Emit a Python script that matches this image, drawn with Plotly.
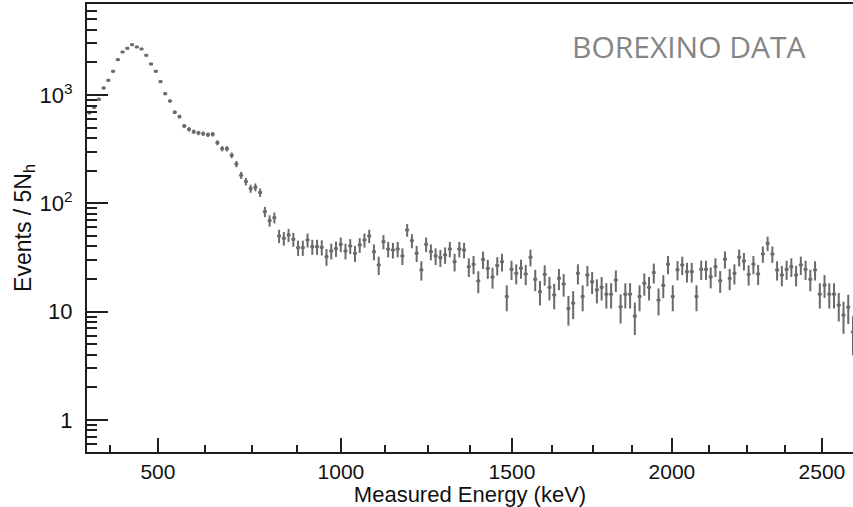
import numpy as np
import plotly.graph_objects as go

# Histogram: bins of 5 N_h starting at N_h = 130
bin_start = 130.0
bin_width = 5.0
counts = [
    688, 771, 914, 1163, 1370, 1659, 2123, 2500, 2705, 2920,
    2781, 2665, 2331, 1937, 1659, 1330, 1030, 882, 694, 632,
    518, 483, 459, 447, 440, 431, 435, 363, 320, 320,
    278, 231, 182, 159, 137, 141, 126, 83.8, 69.2, 73.8,
    50.0, 47.6, 51.1, 46.6, 39.0, 39.0, 45.9, 39.8, 39.8, 39.3,
    32.2, 36.4, 38.2, 41.9, 36.4, 40.4, 34.6, 41.3, 45.9, 50.0,
    35.8, 27.0, 44.3, 37.9, 37.1, 37.9, 32.7, 56.8, 45.2, 34.6,
    24.3, 41.9, 35.8, 32.7, 31.5, 33.4, 37.9, 28.9, 37.9, 37.1,
    26.0, 27.4, 19.2, 30.3, 25.1, 20.9, 26.7, 28.9, 13.8, 24.6,
    22.6, 25.2, 22.3, 31.8, 19.9, 15.3, 22.1, 16.8, 14.3, 20.3,
    18.0, 10.7, 12.0, 22.6, 13.8, 21.8, 18.9, 15.9, 16.8, 14.5,
    14.5, 19.6, 11.1, 14.5, 14.5, 9.1, 13.8, 18.3, 16.8, 23.0,
    12.8, 17.5, 27.4, 13.8, 24.4, 27.0, 23.4, 23.4, 13.8, 24.6,
    24.6, 21.0, 26.0, 19.3, 30.5, 20.3, 22.6, 31.8, 29.4, 22.1,
    27.4, 22.3, 34.1, 42.8, 34.1, 24.3, 21.8, 24.6, 26.0, 21.8,
    27.0, 24.6, 19.9, 24.3, 14.5, 17.6, 14.5, 14.5, 11.5, 9.3,
    11.0, 6.5,
]

# Energy calibration of the N_h axis (tick labels)
major_kev = [500, 1000, 1500, 2000, 2500]
major_nh = [204.8, 397.7, 578.0, 746.6, 904.7]
minor_kev = [375, 625, 750, 875, 1125, 1250, 1375, 1625, 1750, 1875, 2125, 2250, 2375]
minor_nh = [154.2, 254.4, 303.9, 351.4, 444.1, 489.4, 533.7, 620.1, 663.3, 704.4, 785.6, 825.6, 865.7]

y_major = [1, 10, 100, 1000]
y_major_text = ["1", "10", "10<sup>2</sup>", "10<sup>3</sup>"]
y_minor = [0.6, 0.7, 0.8, 0.9] + [m * 10 ** k for k in range(0, 4) for m in range(2, 10)]

counts = np.array(counts, dtype=float)
nh = bin_start + bin_width * (np.arange(len(counts)) + 0.5)
err = np.sqrt(counts)

gray = "#6a6a6a"
axis_col = "#1e1e1e"
font_fam = "Liberation Sans, Arial, sans-serif"

fig = go.Figure()
fig.add_trace(go.Scatter(
    x=nh, y=counts, mode="markers",
    marker=dict(size=3, color=gray, symbol="square"),
    error_y=dict(type="data", array=err, color=gray, thickness=2, width=0),
    error_x=dict(type="constant", value=bin_width * 0.42, color=gray, thickness=2, width=0),
    showlegend=False,
))

fig.update_layout(
    width=853, height=507,
    margin=dict(l=87, r=0, t=4, b=55),
    paper_bgcolor="white", plot_bgcolor="white",
    font=dict(family=font_fam, color="#111", size=21),
    xaxis=dict(
        range=[bin_start, 937.5],
        tickmode="array", tickvals=major_nh, ticktext=[str(v) for v in major_kev],
        ticks="inside", ticklen=14, tickwidth=1.5, tickcolor=axis_col,
        minor=dict(tickmode="array", tickvals=minor_nh, ticks="inside", ticklen=7,
                   tickwidth=1.5, tickcolor=axis_col, showgrid=False),
        showgrid=False, zeroline=False,
        showline=True, linecolor=axis_col, linewidth=2, mirror=True,
        tickfont=dict(size=21, family=font_fam, color="#111"),
        title=dict(text="Measured Energy (keV)", standoff=3,
                   font=dict(size=22, family=font_fam, color="#111")),
    ),
    yaxis=dict(
        type="log", range=[np.log10(0.506), np.log10(6935)],
        tickmode="array", tickvals=y_major, ticktext=y_major_text,
        ticks="inside", ticklen=21, tickwidth=1.5, tickcolor=axis_col,
        minor=dict(tickmode="array", tickvals=y_minor, ticks="inside", ticklen=10,
                   tickwidth=1.5, tickcolor=axis_col, showgrid=False),
        showgrid=False, zeroline=False,
        showline=True, linecolor=axis_col, linewidth=2, mirror=False,
        ticklabelstandoff=8,
        tickfont=dict(size=22, family=font_fam, color="#111"),
        title=dict(text="Events / 5N<sub>h</sub>", standoff=2,
                   font=dict(size=23, family=font_fam, color="#111")),
    ),
    annotations=[dict(
        text="BOREXINO DATA", x=0.786, y=0.906, xref="paper", yref="paper",
        xanchor="center", yanchor="middle", showarrow=False,
        font=dict(family="Open Sans, sans-serif", size=30, color="#858585"),
    )],
)

fig.write_html("out.html")
